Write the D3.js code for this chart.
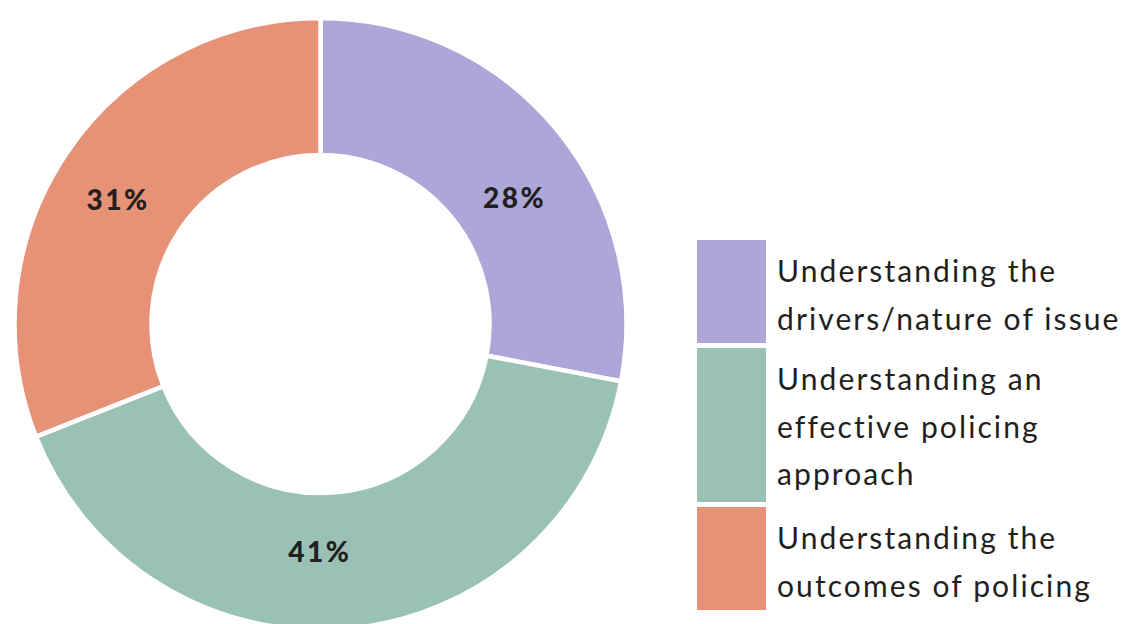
<!DOCTYPE html>
<html>
<head>
<meta charset="utf-8">
<script src="https://cdn.jsdelivr.net/npm/d3@7"></script>
<style>
  body { margin: 0; background: #fff; }
  svg { display: block; }
</style>
</head>
<body>
<div id="chart-area"></div>
<script>
const WIDTH = 1127
const HEIGHT = 624

// data
const categories = ["drivers", "policing", "outcomes"]
const values = [28, 41, 31]
const pctLabels = ["28%", "41%", "31%"]
const legendLines = [
  ["Understanding the", "drivers/nature of issue"],
  ["Understanding an", "effective policing", "approach"],
  ["Understanding the", "outcomes of policing"]
]
const colors = ["#ada7d9", "#9ac1b5", "#e59277"]

// label nudges off the arc centroid
const labelNudge = [[11, 26], [-23, -8], [-6, 10]]

const CX = 320.5, CY = 324
const R_OUT = 306, R_IN = 169

const svg = d3.select("#chart-area").append("svg")
  .attr("width", WIDTH)
  .attr("height", HEIGHT)

const g = svg.append("g")
  .attr("transform", `translate(${CX}, ${CY})`)

const pie = d3.pie().sort(null).value(d => d)
const arcs = pie(values)

const arc = d3.arc().innerRadius(R_IN).outerRadius(R_OUT)

g.selectAll("path.slice")
  .data(arcs)
  .enter().append("path")
    .attr("class", "slice")
    .attr("d", arc)
    .attr("fill", (d, i) => colors[i])
    .attr("stroke", "#fff")
    .attr("stroke-width", 4.5)

g.selectAll("text.pct")
  .data(arcs)
  .enter().append("text")
    .attr("class", "pct")
    .attr("x", (d, i) => arc.centroid(d)[0] + labelNudge[i][0])
    .attr("y", (d, i) => arc.centroid(d)[1] + labelNudge[i][1])
    .attr("dy", "0.35em")
    .attr("text-anchor", "middle")
    .attr("font-family", "Lato, sans-serif")
    .attr("font-weight", 900)
    .attr("font-size", "28px")
    .attr("letter-spacing", "2.5px")
    .attr("fill", "#231f20")
    .text((d, i) => pctLabels[i])

// Legend
const boxTops = [240, 348, 507]
const boxHeights = [103, 154, 103]
const lineGap = 47.5
const legend = svg.append("g")

categories.forEach((c, i) => {
  legend.append("rect")
    .attr("x", 697)
    .attr("y", boxTops[i])
    .attr("width", 69)
    .attr("height", boxHeights[i])
    .attr("fill", colors[i])

  const t = legend.append("text")
    .attr("font-family", "Lato, sans-serif")
    .attr("font-size", "30px")
    .attr("letter-spacing", "2.1px")
    .attr("fill", "#231f20")
  legendLines[i].forEach((line, j) => {
    t.append("tspan")
      .attr("x", 777)
      .attr("y", boxTops[i] + 42 + j * lineGap)
      .text(line)
  })
})
</script>
</body>
</html>
